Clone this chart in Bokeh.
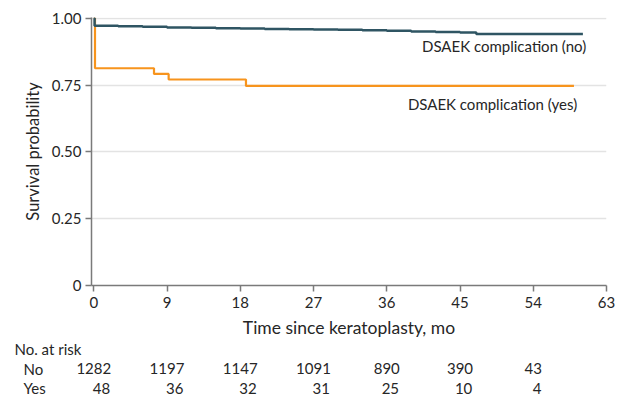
from bokeh.plotting import figure
from bokeh.models import Range1d, FixedTicker, ColumnDataSource
from bokeh.layouts import column, row
from bokeh.core.properties import value
from bokeh.embed import file_html
from bokeh.resources import INLINE

# ---- data ----
no_time = [0, 0.1, 3, 6, 9, 12, 15, 18, 21, 24, 27, 30, 33, 36, 39, 42, 45, 47, 60.1]
no_surv = [1.0, 0.972, 0.970, 0.968, 0.966, 0.965, 0.963, 0.962, 0.960, 0.959, 0.958,
           0.957, 0.955, 0.953, 0.951, 0.949, 0.947, 0.941, 0.941]
yes_time = [0, 0.15, 7.4, 9.2, 18.7, 59.0]
yes_surv = [1.0, 0.813, 0.792, 0.771, 0.747, 0.747]

x_ticks = [0, 9, 18, 27, 36, 45, 54, 63]
y_ticks = [0, 0.25, 0.5, 0.75, 1.0]
y_tick_labels = ["0", "0.25", "0.50", "0.75", "1.00"]
risk_times = [0, 9, 18, 27, 36, 45, 54]
risk_no = [1282, 1197, 1147, 1091, 890, 390, 43]
risk_yes = [48, 36, 32, 31, 25, 10, 4]
risk_rows = ["No", "Yes"]

FONT = "Lato"
TXT = "#262626"
AX = "#7a7a7a"
NO_C = "#2f5563"
YES_C = "#f7941d"

BL, BR, FW, FH = 91, 12, 515, 268
X0, X1 = -0.28, 63

p = figure(frame_width=FW, frame_height=FH, output_backend="svg", toolbar_location=None,
           x_range=Range1d(X0, X1), y_range=Range1d(0, 1.003),
           min_border_left=BL, min_border_right=BR, min_border_top=17, min_border_bottom=20)
p.outline_line_color = None
p.xgrid.grid_line_color = None
p.ygrid.grid_line_color = "#e3e3e3"
p.ygrid.grid_line_width = 1.5
p.ygrid.ticker = FixedTicker(ticks=y_ticks[1:])

p.xaxis.ticker = FixedTicker(ticks=x_ticks)
p.yaxis.ticker = FixedTicker(ticks=y_ticks)
p.yaxis.major_label_overrides = {t: l for t, l in zip(y_ticks, y_tick_labels)}
p.xaxis.axis_label = "Time since keratoplasty, mo"
p.yaxis.axis_label = "Survival probability"
for ax in (p.xaxis, p.yaxis):
    ax.axis_line_color = AX
    ax.axis_line_width = 1.5
    ax.major_tick_line_color = AX
    ax.major_tick_line_width = 1.5
    ax.major_tick_out = 6
    ax.major_tick_in = 0
    ax.minor_tick_line_color = None
    ax.major_label_text_font = FONT
    ax.major_label_text_font_size = "15px"
    ax.major_label_text_color = TXT
    ax.axis_label_text_font = FONT
    ax.axis_label_text_font_style = "normal"
    ax.axis_label_text_color = TXT
p.xaxis.axis_label_text_font_size = "17.5px"
p.yaxis.axis_label_text_font_size = "16.5px"
p.xaxis.axis_label_standoff = 6
p.yaxis.axis_label_standoff = 6
p.yaxis.major_label_standoff = 4

p.step(yes_time, yes_surv, mode="after", line_color=YES_C, line_width=2.2)
p.step(no_time, no_surv, mode="after", line_color=NO_C, line_width=2.5)

p.text(x=[60.5], y=[0.896], text=["DSAEK complication (no)"], text_align="right",
       text_baseline="middle", text_font=value(FONT), text_font_size="15px", text_color=TXT)
p.text(x=[59.4], y=[0.679], text=["DSAEK complication (yes)"], text_align="right",
       text_baseline="middle", text_font=value(FONT), text_font_size="15px", text_color=TXT)

# ---- number at risk table (frame spans whole width, same x mapping) ----
scale = FW / (X1 - X0)
W = BL + FW + BR
r = figure(width=W, height=62, output_backend="svg", toolbar_location=None,
           x_range=Range1d(X0 - BL / scale, X1 + BR / scale), y_range=Range1d(2.72, -0.46),
           min_border_left=0, min_border_right=0, min_border_top=0, min_border_bottom=0)
r.axis.visible = False
r.grid.visible = False
r.outline_line_color = None

digit_w = 8.2
src = ColumnDataSource(dict(
    x=risk_times,
    no=[str(v) for v in risk_no],
    yes=[str(v) for v in risk_yes],
    off=[len(str(v)) * digit_w / 2 for v in risk_no],
    y_no=[1] * len(risk_times),
    y_yes=[2] * len(risk_times),
))
r.text(x="x", y="y_no", text="no", source=src, text_align="center", text_baseline="middle",
       text_font=value(FONT), text_font_size="15px", text_color=TXT)
r.text(x="x", y="y_yes", text="yes", x_offset="off", source=src, text_align="right",
       text_baseline="middle", text_font=value(FONT), text_font_size="15px", text_color=TXT)
xs = r.x_range.start
r.text(x=[xs, xs, xs], y=[0, 1, 2], text=["No. at risk"] + risk_rows,
       x_offset=[14, 23, 23], text_align="left", text_baseline="middle",
       text_font=value(FONT), text_font_size="15px", text_color=TXT)

layout = column(p, row(r), spacing=0)
open("out.html", "w").write(file_html(layout, INLINE))
